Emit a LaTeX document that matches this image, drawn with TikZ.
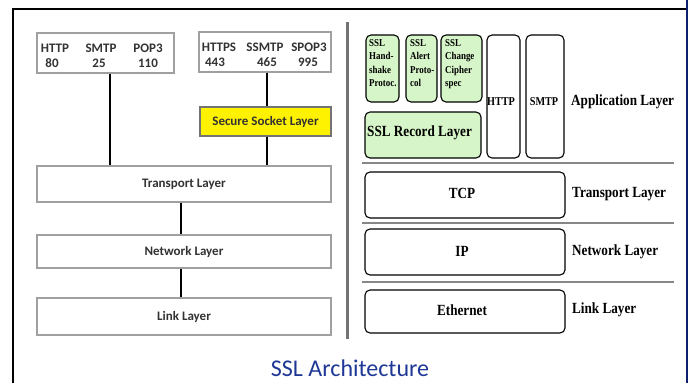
\documentclass[tikz,border=0pt]{standalone}
\usepackage{fontspec}
\setmainfont{Carlito}
\newfontfamily\tnr[FakeStretch=0.85]{Liberation Serif}
\usetikzlibrary{calc}
\definecolor{lgray}{RGB}{160,160,160}
\definecolor{ltext}{RGB}{50,50,50}
\definecolor{lgreen}{RGB}{214,245,200}
\definecolor{navy}{RGB}{12,32,110}
\definecolor{capblue}{RGB}{31,56,150}
\definecolor{sepgray}{RGB}{135,135,135}
\tikzset{
  lbox/.style={draw=lgray, line width=1.3pt, inner sep=0pt},
  ltxt/.style={inner sep=0pt, text=ltext, font=\fontsize{13}{15}\selectfont\bfseries},
  conn/.style={line width=2pt, black},
  rbox/.style={draw=black, line width=1.1pt, rounded corners=5pt, inner sep=0pt},
  gbox/.style={rbox, fill=lgreen},
  small/.style={inner sep=0pt, align=left, anchor=north west, font=\tnr\bfseries\fontsize{10.5}{13.5}\selectfont},
  mid/.style={inner sep=0pt, font=\tnr\bfseries\fontsize{12}{14}\selectfont},
  big/.style={inner sep=0pt, font=\tnr\bfseries\fontsize{15.5}{18}\selectfont},
  rlab/.style={big, anchor=west},
  sepline/.style={draw=sepgray, line width=1.5pt}
}
\begin{document}
\begin{tikzpicture}[x=1pt,y=-1pt]
\useasboundingbox (0,0) rectangle (688,383);
\fill[white] (0,0) rectangle (688,383);
% frame
\draw[line width=2pt, black] (12,8.5) -- (686,8.5);
\draw[line width=2pt, black] (12.5,8) -- (12.5,383);
\draw[line width=2.5pt, navy] (687,0) -- (687,383);
\draw[line width=3pt, black!55] (347.5,22) -- (347.5,339);

% ---- left side ----
\node[lbox, minimum width=137pt, minimum height=40pt] (b1) at (105.5,53) {};
\node[lbox, minimum width=132pt, minimum height=40pt] (b2) at (265,52) {};
\node[lbox, draw=black!55, fill=yellow, minimum width=131pt, minimum height=29pt] (ssl) at (265.5,121.5) {};
\node[ltxt] (ssltxt) at (ssl) {Secure Socket Layer};
\node[lbox, minimum width=294pt, minimum height=36pt] (tl) at (184,184) {};
\node[ltxt] (tltxt) at (tl) {Transport Layer};
\node[lbox, minimum width=294pt, minimum height=33pt] (nl) at (184,251.5) {};
\node[ltxt] (nltxt) at (nl) {Network Layer};
\node[lbox, minimum width=294pt, minimum height=37pt] (ll) at (184,316.5) {};
\node[ltxt] (lltxt) at (ll) {Link Layer};

\node[ltxt] (h1) at (55,48) {HTTP};
\node[ltxt] (h2) at (101,48) {SMTP};
\node[ltxt] (h3) at (148,48) {POP3};
\node[ltxt] (n1) at (52,63) {80};
\node[ltxt] (n2) at (99,63) {25};
\node[ltxt] (n3) at (148,63) {110};
\node[ltxt] (s1) at (219,47) {HTTPS};
\node[ltxt] (s2) at (265,47) {SSMTP};
\node[ltxt] (s3) at (309,47) {SPOP3};
\node[ltxt] (m1) at (215,62) {443};
\node[ltxt] (m2) at (267,62) {465};
\node[ltxt] (m3) at (308,62) {995};

\coordinate (c1) at (110,0);
\coordinate (c2) at (267,0);
\coordinate (c3) at (181,0);
\draw[conn] (b1.south -| c1) -- (tl.north -| c1);
\draw[conn] (b2.south -| c2) -- (ssl.north -| c2);
\draw[conn] (ssl.south -| c2) -- (tl.north -| c2);
\draw[conn] (tl.south -| c3) -- (nl.north -| c3);
\draw[conn] (nl.south -| c3) -- (ll.north -| c3);

% ---- right side ----
\node[gbox, minimum width=33pt, minimum height=67pt] (hs) at (382.5,68.5) {};
\node[gbox, minimum width=31pt, minimum height=67pt] (al) at (421.5,68.5) {};
\node[gbox, minimum width=41pt, minimum height=67pt] (cc) at (461.5,68.5) {};
\node[small] (hstxt) at (369,39) {SSL\\Hand-\\shake\\Protoc.};
\node[small] (altxt) at (410,39) {SSL\\Alert\\Proto-\\col};
\node[small] (cctxt) at (445,39) {SSL\\Change\\Cipher\\spec};
\node[gbox, minimum width=116pt, minimum height=46pt] (rec) at (423,135) {};
\node[big, anchor=west] (rectxt) at (367,133) {SSL Record Layer};
\node[rbox, minimum width=33pt, minimum height=123pt] (http) at (503.5,96.5) {};
\node[mid] (httptxt) at (501,102) {HTTP};
\node[rbox, minimum width=38pt, minimum height=123pt] (smtp) at (545,96.5) {};
\node[mid] (smtptxt) at (544,102) {SMTP};
\node[rlab] (app) at (571,102) {Application Layer};

\draw[sepline] (362,163) -- (674,163);
\node[rbox, minimum width=200pt, minimum height=46pt] (tcp) at (465,195) {};
\node[big] (tcptxt) at (462,193) {TCP};
\node[rlab] (trl) at (572,194) {Transport Layer};

\draw[sepline] (362,223) -- (674,223);
\node[rbox, minimum width=200pt, minimum height=46pt] (ip) at (465,252) {};
\node[big] (iptxt) at (462,251) {IP};
\node[rlab] (nwl) at (572,252) {Network Layer};

\draw[sepline] (362,282) -- (674,282);
\node[rbox, minimum width=200pt, minimum height=43pt] (eth) at (465,311.5) {};
\node[big] (ethtxt) at (462,310) {Ethernet};
\node[rlab] (lkl) at (572,310) {Link Layer};

% caption
\node[inner sep=0pt, text=capblue, font=\fontsize{24}{28}\selectfont] (cap) at (350,368) {SSL Architecture};
\end{tikzpicture}
\end{document}
